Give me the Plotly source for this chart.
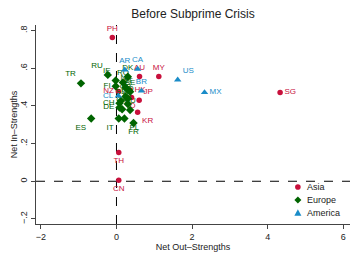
import plotly.graph_objects as go

# ---- data ----
asia_lbl = ["PH", "AU", "MY", "SG", "NZ", "HK", "JP", "ID", "KR", "TH", "CN"]
asia_x = [-0.11, 0.61, 1.12, 4.33, 0.05, 0.36, 0.60, 0.40, 0.56, 0.06, 0.06]
asia_y = [0.764, 0.557, 0.557, 0.472, 0.477, 0.483, 0.430, 0.445, 0.367, 0.153, 0.005]
asia_pos = ["top center", "top center", "top center", "middle right", "middle left",
            "middle right", "top right", "bottom center", "bottom right",
            "bottom center", "bottom center"]

eur_lbl = ["TR", "RU", "IE", "FI", "DK", "RO", "NL", "AT", "BE", "GB", "NO", "SE",
           "PT", "GR", "HU", "CH", "DE", "IT", "PL", "FR", "ES"]
eur_x = [-0.94, -0.23, -0.02, -0.02, 0.30, 0.17, 0.24, 0.30, 0.36, 0.24, 0.30, 0.12,
         0.30, 0.15, 0.36, 0.08, 0.08, 0.06, 0.21, 0.45, -0.67]
eur_y = [0.520, 0.565, 0.535, 0.505, 0.555, 0.525, 0.498, 0.486, 0.475, 0.450, 0.440,
         0.427, 0.410, 0.383, 0.379, 0.415, 0.392, 0.333, 0.333, 0.309, 0.333]
eur_pos = ["top left", "top left", "top left", "middle left", "top center", "top center",
           "top center", "top center", "top center", "top center", "top center",
           "top center", "top center", "top center", "top center", "middle left",
           "middle left", "bottom left", "bottom right", "bottom center", "bottom left"]

ame_lbl = ["AR", "CA", "US", "MX", "CL", "BR"]
ame_x = [0.22, 0.56, 1.62, 2.33, 0.05, 0.66]
ame_y = [0.592, 0.596, 0.539, 0.472, 0.454, 0.480]
ame_pos = ["top center", "top center", "top right", "middle right", "middle left",
           "top center"]

x_ticks = [-2, 0, 2, 4, 6]
x_ticktext = ["\u22122", "0", "2", "4", "6"]
y_ticks = [-0.2, 0, 0.2, 0.4, 0.6, 0.8]
y_ticktext = ["\u2212.2", "0", ".2", ".4", ".6", ".8"]

legend_names = ["Asia", "Europe", "America"]

RED = "#c8103c"
GREEN = "#006400"
BLUE = "#1a8cc8"
FONT = "Liberation Sans"

fig = go.Figure()


def add(name, xs, ys, lbl, pos, color, symbol, size):
    fig.add_trace(go.Scatter(
        x=xs, y=ys, text=lbl, textposition=pos, mode="markers+text", name=name,
        marker=dict(color=color, symbol=symbol, size=size, line=dict(width=0)),
        textfont=dict(color=color, size=8, family=FONT),
        cliponaxis=False, showlegend=False,
    ))


add(legend_names[0], asia_x, asia_y, asia_lbl, asia_pos, RED, "circle", 5.5)
add(legend_names[1], eur_x, eur_y, eur_lbl, eur_pos, GREEN, "diamond", 6.5)
add(legend_names[2], ame_x, ame_y, ame_lbl, ame_pos, BLUE, "triangle-up", 6.5)

# reference lines at zero
fig.add_shape(type="line", xref="x", yref="y", x0=0, x1=0, y0=-0.227, y1=0.83,
              line=dict(color="black", width=1, dash="dash"), layer="below")
fig.add_shape(type="line", xref="x", yref="y", x0=-2.13, x1=6.18, y0=0, y1=0,
              line=dict(color="black", width=1, dash="dash"), layer="below")

# compact legend drawn with shapes + annotations
leg_x, leg_y0, leg_dy = 0.834, 0.186, 0.065
paths = [None, "M 0 3.5 L 3.5 0 L 0 -3.5 L -3.5 0 Z", "M -3.5 -3 L 3.5 -3 L 0 3.5 Z"]
colors = [RED, GREEN, BLUE]
for i, name in enumerate(legend_names):
    yy = leg_y0 - i * leg_dy
    if i == 0:
        fig.add_shape(type="circle", xref="paper", yref="paper",
                      xsizemode="pixel", ysizemode="pixel", xanchor=leg_x, yanchor=yy,
                      x0=-2.8, x1=2.8, y0=-2.8, y1=2.8,
                      fillcolor=colors[i], line=dict(width=0))
    else:
        fig.add_shape(type="path", xref="paper", yref="paper",
                      xsizemode="pixel", ysizemode="pixel", xanchor=leg_x, yanchor=yy,
                      path=paths[i], fillcolor=colors[i], line=dict(width=0))
    fig.add_annotation(x=leg_x + 0.022, y=yy, xref="paper", yref="paper", text=name,
                       showarrow=False, xanchor="left", yanchor="middle",
                       font=dict(size=9, family=FONT, color="#222"))

fig.update_layout(
    width=358, height=260,
    margin=dict(l=36, r=8, t=25, b=36),
    paper_bgcolor="white", plot_bgcolor="white",
    font=dict(family=FONT, size=9, color="#222"),
    title=dict(text="Before Subprime Crisis", x=0.5, xref="paper", xanchor="center",
               y=0.965, yanchor="top", font=dict(size=12, color="#222", family=FONT)),
    showlegend=False,
    xaxis=dict(range=[-2.13, 6.18], tickvals=x_ticks, ticktext=x_ticktext,
               showgrid=False, zeroline=False, showline=True, linecolor="#444",
               linewidth=1, ticks="outside", ticklen=4, tickcolor="#444",
               automargin=False,
               title=dict(text="Net Out\u2013Strengths", standoff=0,
                          font=dict(size=9, family=FONT)),
               tickfont=dict(size=9, family=FONT)),
    yaxis=dict(range=[-0.227, 0.83], tickvals=y_ticks, ticktext=y_ticktext,
               showgrid=False, zeroline=False, showline=True, linecolor="#444",
               linewidth=1, ticks="outside", ticklen=4, tickcolor="#444",
               tickangle=-90, automargin=False,
               title=dict(text="Net In\u2013Strengths", standoff=0,
                          font=dict(size=9, family=FONT)),
               tickfont=dict(size=9, family=FONT)),
)

fig.write_html("out.html",
               config={"displayModeBar": False},
               post_script="document.body.style.margin='0px';"
                           "document.body.style.overflow='hidden';")
